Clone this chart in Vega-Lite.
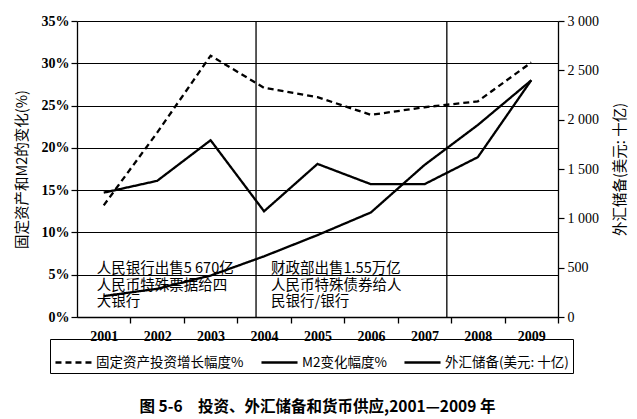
{
  "$schema": "https://vega.github.io/schema/vega-lite/v6.json",
  "width": 481,
  "height": 296,
  "autosize": "none",
  "padding": {"left": 77, "top": 21, "right": 79, "bottom": 102},
  "background": "white",
  "config": {
    "view": {"stroke": null},
    "axis": {"domainColor": "black", "tickColor": "black", "labelColor": "black", "titleColor": "black"}
  },
  "title": {
    "text": "图 5-6　投资、外汇储备和货币供应,2001—2009 年",
    "orient": "bottom",
    "anchor": "middle",
    "font": "Noto Sans CJK SC",
    "fontSize": 15.5,
    "fontWeight": "bold",
    "color": "black",
    "offset": 26
  },
  "data": {
    "values": [
      {"year": 2001, "series": "固定资产投资增长幅度%", "value": 13.2},
      {"year": 2002, "series": "固定资产投资增长幅度%", "value": 21.8},
      {"year": 2003, "series": "固定资产投资增长幅度%", "value": 30.9},
      {"year": 2004, "series": "固定资产投资增长幅度%", "value": 27.1},
      {"year": 2005, "series": "固定资产投资增长幅度%", "value": 26.0},
      {"year": 2006, "series": "固定资产投资增长幅度%", "value": 23.9},
      {"year": 2007, "series": "固定资产投资增长幅度%", "value": 24.8},
      {"year": 2008, "series": "固定资产投资增长幅度%", "value": 25.5},
      {"year": 2009, "series": "固定资产投资增长幅度%", "value": 30.1},
      {"year": 2001, "series": "M2变化幅度%", "value": 14.7},
      {"year": 2002, "series": "M2变化幅度%", "value": 16.1},
      {"year": 2003, "series": "M2变化幅度%", "value": 20.9},
      {"year": 2004, "series": "M2变化幅度%", "value": 12.5},
      {"year": 2005, "series": "M2变化幅度%", "value": 18.1},
      {"year": 2006, "series": "M2变化幅度%", "value": 15.7},
      {"year": 2007, "series": "M2变化幅度%", "value": 15.7},
      {"year": 2008, "series": "M2变化幅度%", "value": 18.9},
      {"year": 2009, "series": "M2变化幅度%", "value": 28.0},
      {"year": 2001, "series": "外汇储备(美元: 十亿)", "value": 212},
      {"year": 2002, "series": "外汇储备(美元: 十亿)", "value": 286},
      {"year": 2003, "series": "外汇储备(美元: 十亿)", "value": 420},
      {"year": 2004, "series": "外汇储备(美元: 十亿)", "value": 615},
      {"year": 2005, "series": "外汇储备(美元: 十亿)", "value": 830},
      {"year": 2006, "series": "外汇储备(美元: 十亿)", "value": 1060},
      {"year": 2007, "series": "外汇储备(美元: 十亿)", "value": 1540},
      {"year": 2008, "series": "外汇储备(美元: 十亿)", "value": 1946},
      {"year": 2009, "series": "外汇储备(美元: 十亿)", "value": 2399}
    ]
  },
  "layer": [
    {
      "layer": [
        {
          "transform": [{"filter": "datum.series !== '外汇储备(美元: 十亿)'"}],
          "mark": {"type": "line", "stroke": "black"},
          "encoding": {
            "x": {
              "field": "year",
              "type": "quantitative",
              "scale": {"domain": [2000.5, 2009.5], "nice": false, "zero": false},
              "axis": {
                "values": [2001, 2002, 2003, 2004, 2005, 2006, 2007, 2008, 2009],
                "format": "d",
                "title": null,
                "grid": false,
                "tickOffset": 26.72,
                "labelOffset": -26.72,
                "tickSize": 6,
                "labelPadding": 6,
                "labelFlush": false,
                "labelOverlap": false,
                "labelFont": "Liberation Serif",
                "labelFontWeight": "bold",
                "labelFontSize": 14,
                "domainWidth": 1.3,
                "tickWidth": 1.3
              }
            },
            "y": {
              "field": "value",
              "type": "quantitative",
              "scale": {"domain": [0, 35], "nice": false},
              "axis": {
                "values": [0, 5, 10, 15, 20, 25, 30, 35],
                "labelExpr": "datum.value + '%'",
                "grid": true,
                "gridColor": "black",
                "gridWidth": 1.2,
                "gridOpacity": 1,
                "tickSize": 6,
                "tickWidth": 1.2,
                "domainWidth": 1.3,
                "labelPadding": 2,
                "labelFont": "Liberation Serif",
                "labelFontWeight": "bold",
                "labelFontSize": 14,
                "title": "固定资产和M2的变化(%)",
                "titleFont": "Noto Sans CJK SC",
                "titleFontSize": 14.5,
                "titleFontWeight": "normal",
                "titleAngle": 270,
                "titleX": -55,
                "titleY": 148,
                "titleAlign": "center",
                "titleBaseline": "middle"
              }
            },
            "strokeDash": {
              "field": "series",
              "type": "nominal",
              "scale": {
                "domain": ["固定资产投资增长幅度%", "M2变化幅度%", "外汇储备(美元: 十亿)"],
                "range": [[6, 4], [1, 0], [1, 0]]
              },
              "legend": {
                "orient": "none",
                "legendX": -27,
                "legendY": 318,
                "direction": "horizontal",
                "columns": 3,
                "title": null,
                "strokeColor": "black",
                "padding": 4,
                "symbolType": "stroke",
                "symbolSize": 1300,
                "symbolStrokeColor": "black",
                "labelFont": "Noto Sans CJK SC",
                "labelFontSize": 13.5,
                "labelColor": "black",
                "labelLimit": 300,
                "labelOffset": 3,
                "columnPadding": 12
              }
            },
            "strokeWidth": {
              "field": "series",
              "type": "nominal",
              "scale": {
                "domain": ["固定资产投资增长幅度%", "M2变化幅度%", "外汇储备(美元: 十亿)"],
                "range": [2.3, 2.3, 1.3]
              }
            }
          }
        },
        {
          "data": {"values": [{"label": "divider"}]},
          "mark": {"type": "rule", "stroke": "black", "strokeWidth": 1.3},
          "encoding": {"x": {"datum": 2003.85, "type": "quantitative"}}
        },
        {
          "data": {"values": [{"label": "divider"}]},
          "mark": {"type": "rule", "stroke": "black", "strokeWidth": 1.3},
          "encoding": {"x": {"datum": 2007.42, "type": "quantitative"}}
        },
        {
          "data": {"values": [{"label": "人民银行出售5 670亿\n人民币特殊票据给四\n大银行"}]},
          "mark": {
            "type": "text",
            "align": "left",
            "baseline": "top",
            "font": "Noto Sans CJK SC",
            "fontSize": 14.5,
            "lineBreak": "\n",
            "lineHeight": 16.7,
            "color": "black"
          },
          "encoding": {
            "x": {"datum": 2000.87, "type": "quantitative"},
            "y": {"datum": 6.5, "type": "quantitative"},
            "text": {"field": "label"}
          }
        },
        {
          "data": {"values": [{"label": "财政部出售1.55万亿\n人民币特殊债券给人\n民银行/银行"}]},
          "mark": {
            "type": "text",
            "align": "left",
            "baseline": "top",
            "font": "Noto Sans CJK SC",
            "fontSize": 14.5,
            "lineBreak": "\n",
            "lineHeight": 16.7,
            "color": "black"
          },
          "encoding": {
            "x": {"datum": 2004.13, "type": "quantitative"},
            "y": {"datum": 6.5, "type": "quantitative"},
            "text": {"field": "label"}
          }
        }
      ]
    },
    {
      "transform": [{"filter": "datum.series === '外汇储备(美元: 十亿)'"}],
      "mark": {"type": "line", "stroke": "black"},
      "encoding": {
        "x": {"field": "year", "type": "quantitative"},
        "y": {
          "field": "value",
          "type": "quantitative",
          "scale": {"domain": [0, 3000], "nice": false},
          "axis": {
            "orient": "right",
            "values": [0, 500, 1000, 1500, 2000, 2500, 3000],
            "labelExpr": "replace(format(datum.value, ','), ',', ' ')",
            "grid": false,
            "tickSize": 6,
            "tickWidth": 1.2,
            "domainWidth": 1.3,
            "labelPadding": 3,
            "labelFont": "Liberation Serif",
            "labelFontSize": 14,
            "title": "外汇储备(美元: 十亿)",
            "titleFont": "Noto Sans CJK SC",
            "titleFontSize": 14.5,
            "titleFontWeight": "normal",
            "titleAngle": 270,
            "titleX": 62,
            "titleY": 148,
            "titleAlign": "center",
            "titleBaseline": "middle"
          }
        },
        "strokeDash": {"field": "series", "type": "nominal"},
        "strokeWidth": {"field": "series", "type": "nominal"}
      }
    }
  ],
  "resolve": {"scale": {"y": "independent"}}
}
